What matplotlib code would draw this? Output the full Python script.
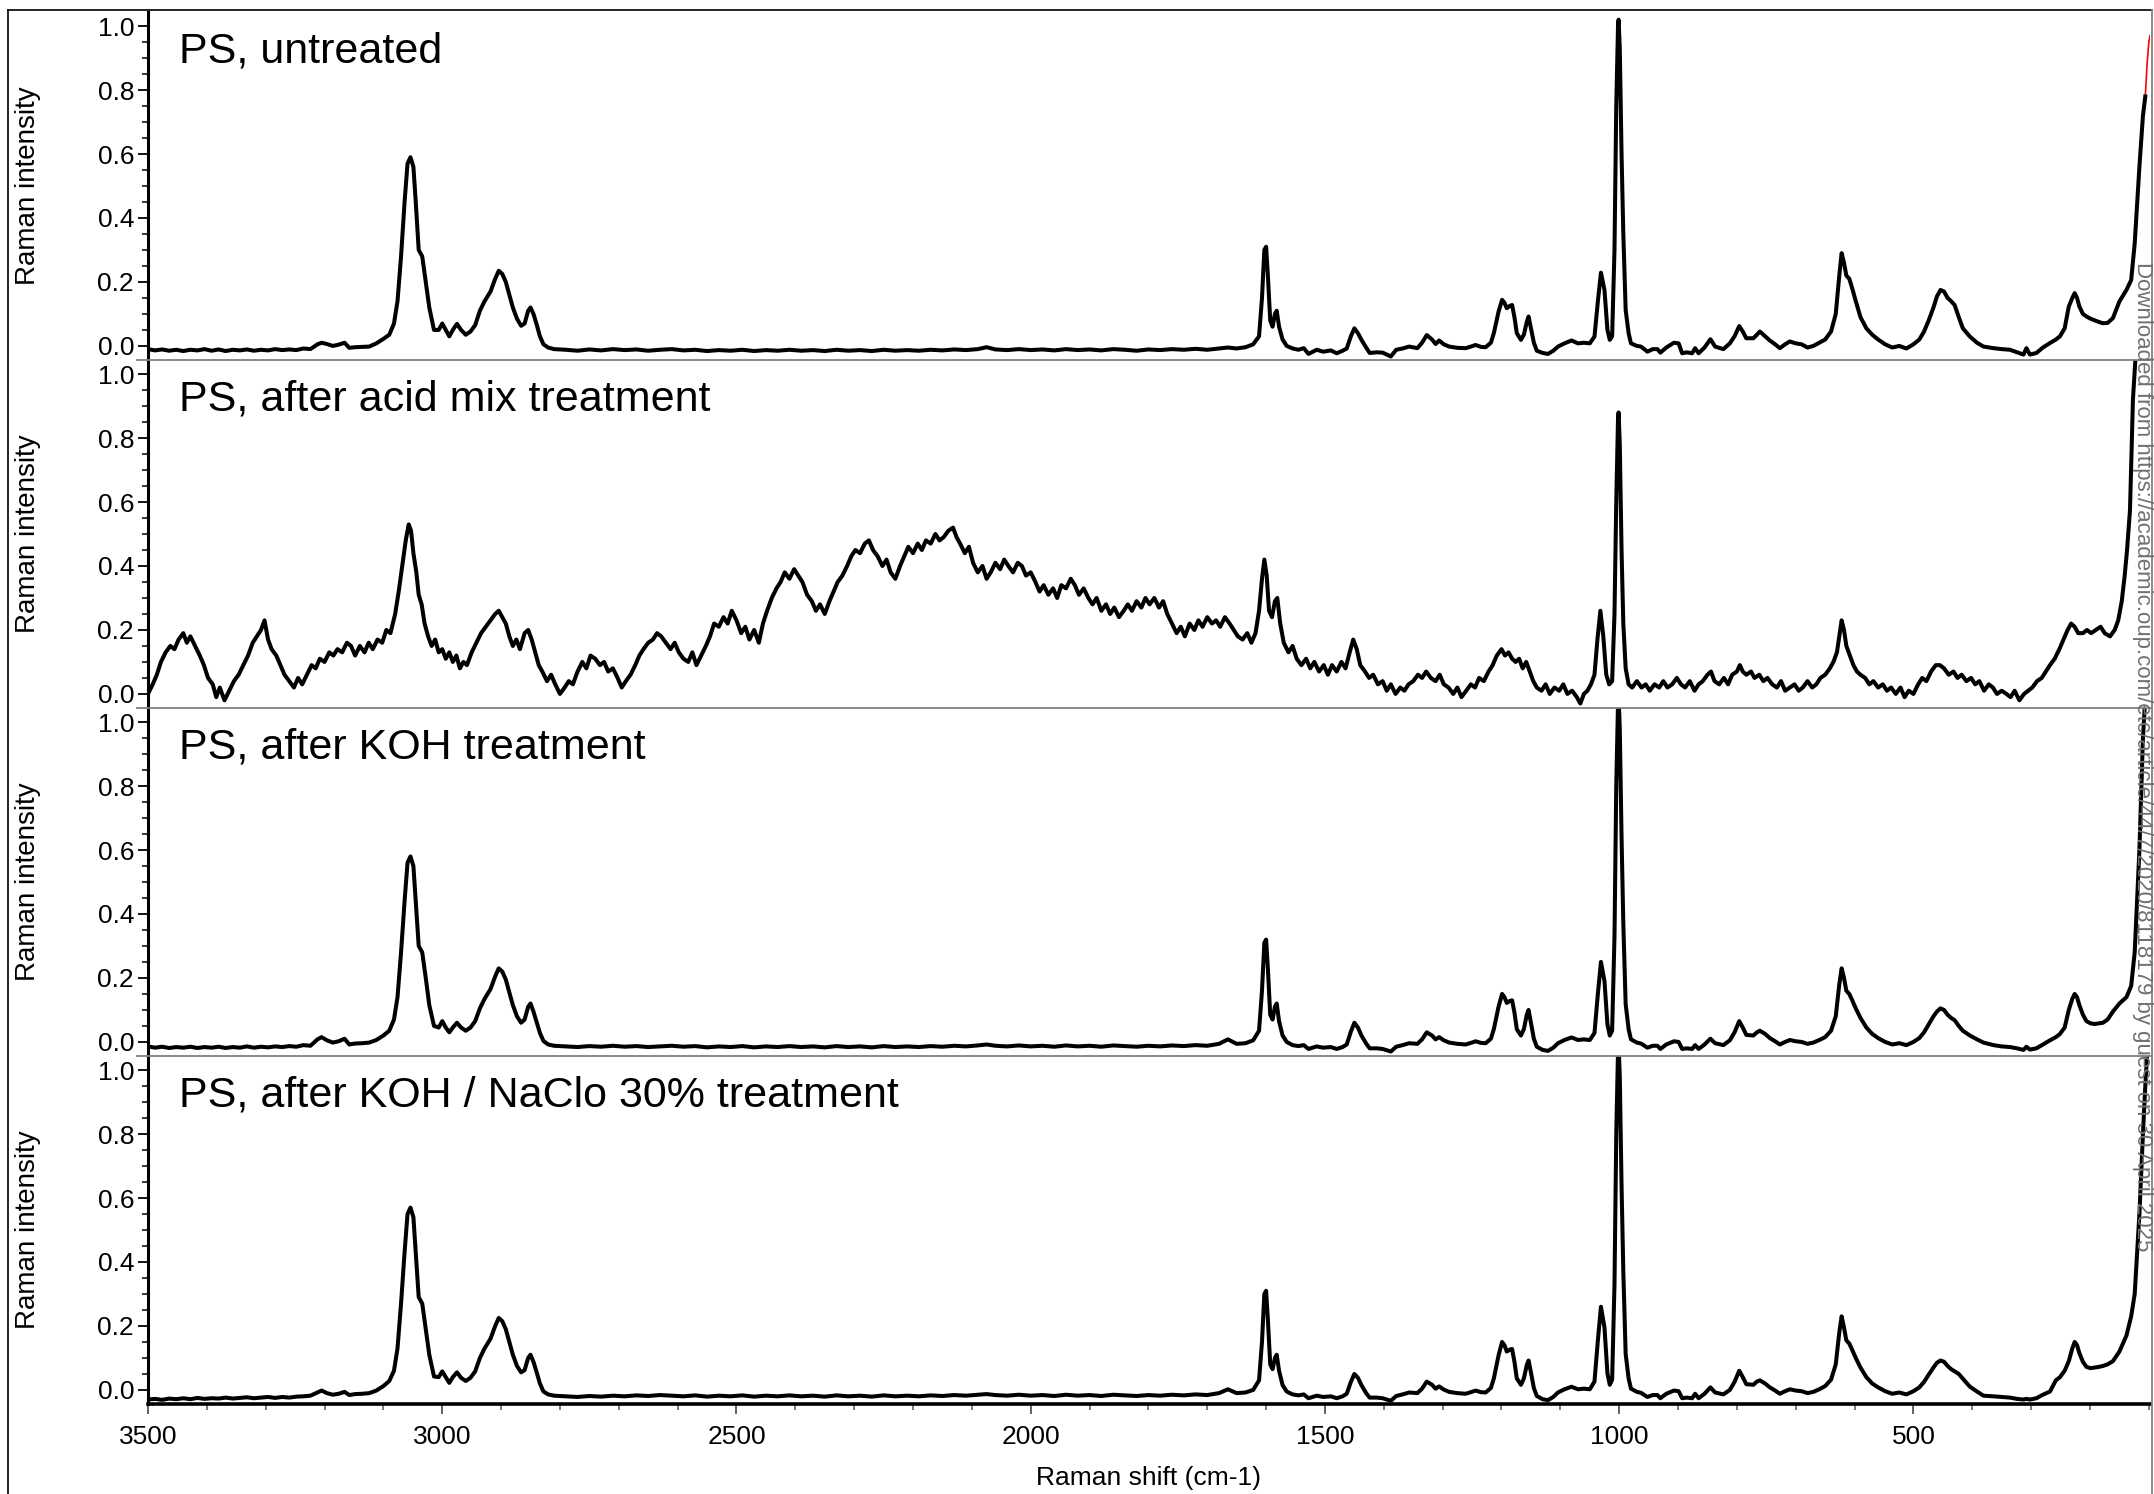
import numpy as np
import matplotlib
matplotlib.use("Agg")
import matplotlib.pyplot as plt
from matplotlib.lines import Line2D
from matplotlib.ticker import MultipleLocator

plt.rcParams["font.family"] = ["Liberation Sans", "DejaVu Sans"]

# wavenumber grid shared by the untreated, KOH and KOH/NaClO spectra
wn = [
    3500, 3488, 3476, 3464, 3452, 3440, 3428, 3416, 3404, 3392,
    3380, 3368, 3356, 3344, 3332, 3320, 3308, 3296, 3284, 3272,
    3260, 3248, 3236, 3224, 3212, 3205, 3196, 3186, 3176, 3166,
    3158, 3148, 3136, 3124, 3112, 3100, 3090, 3082, 3076, 3070,
    3064, 3059, 3054, 3049, 3045, 3040, 3034, 3028, 3022, 3014,
    3006, 3000, 2994, 2988, 2982, 2975, 2968, 2960, 2952, 2944,
    2936, 2928, 2918, 2910, 2904, 2898, 2892, 2886, 2880, 2873,
    2866, 2860, 2854, 2850, 2845, 2840, 2834, 2828, 2820, 2810,
    2790, 2770, 2750, 2730, 2710, 2690, 2670, 2650, 2630, 2610,
    2590, 2570, 2550, 2530, 2510, 2490, 2470, 2450, 2430, 2410,
    2390, 2370, 2350, 2330, 2310, 2290, 2270, 2250, 2230, 2210,
    2190, 2170, 2150, 2130, 2110, 2090, 2075, 2060, 2040, 2020,
    2000, 1980, 1960, 1940, 1920, 1900, 1880, 1860, 1840, 1820,
    1800, 1780, 1760, 1740, 1720, 1700, 1680, 1665, 1650, 1635,
    1622, 1612, 1607, 1603, 1600, 1597, 1593, 1589, 1585, 1582,
    1578, 1572, 1565, 1555, 1545, 1536, 1528, 1514, 1503, 1490,
    1480, 1470, 1463, 1456, 1450, 1444, 1438, 1430, 1424, 1412,
    1402, 1388, 1379, 1368, 1357, 1343, 1335, 1327, 1318, 1312,
    1306, 1298, 1289, 1275, 1261, 1252, 1244, 1235, 1227, 1218,
    1213, 1205, 1199, 1195, 1191, 1186, 1182, 1178, 1174, 1167,
    1162, 1157, 1154, 1150, 1145, 1140, 1130, 1121, 1112, 1104,
    1093, 1081, 1070, 1060, 1050, 1042, 1036, 1031, 1025, 1020,
    1016, 1012, 1008, 1005, 1002, 1001, 999, 996, 993, 989,
    984, 980, 970, 963, 952, 943, 935, 930, 920, 907,
    899, 893, 885, 876, 871, 865, 855, 845, 837, 823,
    812, 804, 796, 790, 784, 772, 766, 761, 752, 744,
    735, 727, 718, 710, 700, 690, 680, 670, 660, 650,
    640, 632, 626, 622, 618, 614, 609, 604, 598, 590,
    580, 570, 560, 548, 536, 524, 512, 500, 490, 482,
    474, 466, 460, 454, 448, 442, 436, 430, 423, 416,
    404, 392, 381, 364, 350, 336, 324, 313, 308, 302,
    291, 280, 268, 258, 251, 243, 236, 230, 226, 222,
    218, 212, 206, 199, 192, 185, 178, 170, 161, 150,
    138, 130, 124, 116, 110, 106, 102, 98,
]

untreated = [
    -0.010, -0.014, -0.011, -0.015, -0.012, -0.016, -0.012, -0.014, -0.010, -0.015,
    -0.011, -0.016, -0.012, -0.014, -0.011, -0.015, -0.012, -0.014, -0.010, -0.013,
    -0.011, -0.013, -0.008, -0.010, 0.005, 0.010, 0.006, 0.000, 0.004, 0.010,
    -0.006, -0.004, -0.003, -0.002, 0.008, 0.022, 0.035, 0.070, 0.140, 0.280,
    0.450, 0.570, 0.590, 0.560, 0.450, 0.300, 0.280, 0.200, 0.120, 0.050,
    0.050, 0.070, 0.050, 0.030, 0.050, 0.069, 0.050, 0.035, 0.045, 0.065,
    0.110, 0.140, 0.170, 0.210, 0.235, 0.225, 0.200, 0.160, 0.120, 0.085,
    0.063, 0.070, 0.110, 0.120, 0.100, 0.070, 0.030, 0.005, -0.005, -0.010,
    -0.012, -0.015, -0.011, -0.014, -0.010, -0.013, -0.011, -0.015, -0.012, -0.010,
    -0.014, -0.012, -0.016, -0.013, -0.015, -0.012, -0.016, -0.013, -0.015, -0.012,
    -0.015, -0.013, -0.016, -0.012, -0.015, -0.013, -0.016, -0.012, -0.015, -0.013,
    -0.015, -0.012, -0.014, -0.011, -0.013, -0.010, -0.004, -0.011, -0.013, -0.010,
    -0.013, -0.011, -0.014, -0.010, -0.013, -0.011, -0.014, -0.010, -0.012, -0.015,
    -0.011, -0.013, -0.010, -0.012, -0.009, -0.012, -0.008, -0.005, -0.008, -0.004,
    0.005, 0.030, 0.150, 0.300, 0.310, 0.220, 0.080, 0.060, 0.100, 0.110,
    0.060, 0.020, 0.000, -0.008, -0.012, -0.007, -0.025, -0.012, -0.018, -0.014,
    -0.023, -0.015, -0.008, 0.030, 0.055, 0.040, 0.019, -0.005, -0.022, -0.020,
    -0.021, -0.033, -0.012, -0.008, -0.002, -0.007, 0.010, 0.034, 0.020, 0.006,
    0.017, 0.005, -0.002, -0.006, -0.007, -0.002, 0.003, -0.003, -0.004, 0.010,
    0.040, 0.107, 0.144, 0.135, 0.118, 0.125, 0.128, 0.090, 0.040, 0.019,
    0.035, 0.075, 0.092, 0.055, 0.010, -0.015, -0.022, -0.025, -0.015, -0.002,
    0.008, 0.017, 0.008, 0.010, 0.008, 0.029, 0.144, 0.229, 0.175, 0.050,
    0.019, 0.030, 0.300, 0.750, 1.000, 1.020, 0.930, 0.600, 0.350, 0.112,
    0.040, 0.008, 0.000, -0.002, -0.018, -0.010, -0.010, -0.021, -0.005, 0.010,
    0.008, -0.023, -0.020, -0.023, -0.007, -0.023, -0.005, 0.021, -0.002, -0.010,
    0.008, 0.030, 0.062, 0.045, 0.024, 0.024, 0.035, 0.045, 0.030, 0.017,
    0.005, -0.007, 0.005, 0.014, 0.008, 0.005, -0.005, 0.000, 0.010, 0.020,
    0.045, 0.100, 0.220, 0.290, 0.260, 0.220, 0.210, 0.180, 0.140, 0.090,
    0.055, 0.035, 0.020, 0.005, -0.005, 0.000, -0.008, 0.005, 0.020, 0.045,
    0.080, 0.120, 0.155, 0.175, 0.170, 0.150, 0.140, 0.128, 0.090, 0.055,
    0.029, 0.010, -0.002, -0.007, -0.010, -0.012, -0.020, -0.027, -0.007, -0.027,
    -0.022, -0.005, 0.009, 0.020, 0.030, 0.055, 0.123, 0.150, 0.165, 0.150,
    0.123, 0.100, 0.092, 0.085, 0.080, 0.075, 0.071, 0.072, 0.087, 0.139,
    0.175, 0.206, 0.320, 0.560, 0.720, 0.780, np.nan, np.nan,
]

# red trace that shows above the black one at the low-wavenumber end
untreated_red_wn = [110, 106, 103, 100, 98]
untreated_red = [0.72, 0.78, 0.88, 0.95, 0.97]

koh = [
    -0.014, -0.018, -0.015, -0.019, -0.016, -0.018, -0.015, -0.019, -0.016, -0.018,
    -0.015, -0.019, -0.016, -0.018, -0.014, -0.018, -0.015, -0.017, -0.014, -0.016,
    -0.013, -0.015, -0.010, -0.012, 0.008, 0.015, 0.005, -0.002, 0.002, 0.010,
    -0.008, -0.005, -0.004, -0.002, 0.006, 0.020, 0.035, 0.070, 0.140, 0.280,
    0.440, 0.560, 0.580, 0.550, 0.440, 0.300, 0.280, 0.200, 0.115, 0.050,
    0.045, 0.065, 0.045, 0.030, 0.045, 0.060, 0.045, 0.035, 0.045, 0.065,
    0.105, 0.135, 0.165, 0.205, 0.230, 0.220, 0.195, 0.155, 0.115, 0.080,
    0.060, 0.070, 0.110, 0.120, 0.095, 0.065, 0.028, 0.003, -0.008, -0.012,
    -0.014, -0.016, -0.013, -0.015, -0.012, -0.015, -0.013, -0.016, -0.014, -0.012,
    -0.015, -0.013, -0.017, -0.014, -0.016, -0.013, -0.017, -0.014, -0.016, -0.013,
    -0.016, -0.014, -0.017, -0.013, -0.016, -0.014, -0.017, -0.013, -0.016, -0.014,
    -0.016, -0.013, -0.015, -0.012, -0.014, -0.011, -0.008, -0.012, -0.014, -0.011,
    -0.014, -0.012, -0.015, -0.011, -0.014, -0.012, -0.015, -0.011, -0.013, -0.015,
    -0.012, -0.014, -0.011, -0.013, -0.010, -0.012, -0.006, 0.008, -0.006, -0.004,
    0.005, 0.035, 0.160, 0.310, 0.320, 0.230, 0.085, 0.070, 0.110, 0.120,
    0.065, 0.020, 0.000, -0.010, -0.013, -0.010, -0.022, -0.014, -0.018, -0.016,
    -0.022, -0.016, -0.008, 0.032, 0.060, 0.045, 0.020, -0.005, -0.020, -0.020,
    -0.022, -0.030, -0.015, -0.010, -0.004, -0.006, 0.008, 0.030, 0.020, 0.008,
    0.015, 0.005, -0.002, -0.006, -0.008, -0.003, 0.002, -0.003, -0.004, 0.010,
    0.040, 0.110, 0.150, 0.140, 0.122, 0.128, 0.130, 0.092, 0.040, 0.020,
    0.040, 0.085, 0.100, 0.060, 0.010, -0.015, -0.025, -0.028, -0.018, -0.004,
    0.006, 0.014, 0.006, 0.008, 0.006, 0.028, 0.155, 0.250, 0.190, 0.055,
    0.020, 0.035, 0.330, 0.800, 1.060, 1.080, 0.980, 0.640, 0.370, 0.118,
    0.040, 0.008, -0.002, -0.005, -0.018, -0.012, -0.012, -0.022, -0.008, 0.002,
    0.000, -0.022, -0.020, -0.022, -0.010, -0.022, -0.008, 0.010, -0.004, -0.010,
    0.005, 0.030, 0.065, 0.045, 0.022, 0.020, 0.030, 0.035, 0.025, 0.012,
    0.002, -0.008, 0.000, 0.006, 0.002, 0.000, -0.006, -0.002, 0.006, 0.015,
    0.035, 0.080, 0.180, 0.230, 0.200, 0.160, 0.150, 0.130, 0.105, 0.075,
    0.045, 0.025, 0.012, 0.000, -0.008, -0.004, -0.010, 0.000, 0.012, 0.030,
    0.055, 0.080, 0.095, 0.105, 0.100, 0.085, 0.075, 0.068, 0.050, 0.035,
    0.020, 0.008, -0.002, -0.010, -0.014, -0.016, -0.020, -0.025, -0.015, -0.024,
    -0.020, -0.008, 0.005, 0.015, 0.025, 0.045, 0.100, 0.135, 0.150, 0.140,
    0.115, 0.085, 0.065, 0.058, 0.056, 0.058, 0.060, 0.070, 0.095, 0.120,
    0.140, 0.175, 0.280, 0.600, 0.950, 1.080, 1.100, 1.100,
]

koh_naclo = [
    -0.030, -0.028, -0.031, -0.027, -0.029, -0.026, -0.029, -0.025, -0.028, -0.026,
    -0.027, -0.024, -0.027, -0.025, -0.023, -0.026, -0.024, -0.022, -0.025, -0.022,
    -0.024, -0.021, -0.020, -0.018, -0.008, -0.002, -0.010, -0.015, -0.012, -0.006,
    -0.016, -0.013, -0.012, -0.010, -0.002, 0.012, 0.028, 0.060, 0.130, 0.270,
    0.430, 0.550, 0.570, 0.540, 0.430, 0.290, 0.270, 0.190, 0.110, 0.042,
    0.040, 0.058, 0.040, 0.022, 0.040, 0.055, 0.038, 0.028, 0.038, 0.058,
    0.100, 0.130, 0.160, 0.200, 0.225, 0.215, 0.190, 0.150, 0.110, 0.075,
    0.055, 0.062, 0.100, 0.110, 0.088, 0.058, 0.020, -0.005, -0.014, -0.018,
    -0.020, -0.022, -0.019, -0.021, -0.018, -0.020, -0.017, -0.019, -0.016, -0.018,
    -0.020, -0.017, -0.021, -0.018, -0.020, -0.017, -0.021, -0.018, -0.020, -0.017,
    -0.020, -0.018, -0.021, -0.017, -0.020, -0.018, -0.021, -0.017, -0.020, -0.018,
    -0.020, -0.017, -0.019, -0.016, -0.018, -0.015, -0.013, -0.016, -0.018, -0.015,
    -0.018, -0.016, -0.019, -0.015, -0.018, -0.016, -0.019, -0.015, -0.017, -0.019,
    -0.016, -0.018, -0.015, -0.017, -0.014, -0.016, -0.010, 0.002, -0.010, -0.008,
    0.000, 0.030, 0.150, 0.300, 0.310, 0.220, 0.080, 0.065, 0.100, 0.110,
    0.060, 0.015, -0.005, -0.014, -0.017, -0.014, -0.026, -0.018, -0.022, -0.020,
    -0.026, -0.020, -0.012, 0.025, 0.050, 0.038, 0.015, -0.010, -0.024, -0.024,
    -0.026, -0.034, -0.019, -0.014, -0.008, -0.010, 0.004, 0.026, 0.016, 0.004,
    0.011, 0.001, -0.006, -0.010, -0.012, -0.007, -0.002, -0.007, -0.008, 0.006,
    0.036, 0.108, 0.150, 0.140, 0.120, 0.126, 0.128, 0.088, 0.036, 0.016,
    0.036, 0.078, 0.092, 0.055, 0.006, -0.019, -0.029, -0.032, -0.022, -0.008,
    0.002, 0.010, 0.002, 0.004, 0.002, 0.026, 0.160, 0.260, 0.195, 0.052,
    0.016, 0.032, 0.330, 0.800, 1.060, 1.080, 0.980, 0.640, 0.370, 0.112,
    0.036, 0.004, -0.006, -0.009, -0.022, -0.016, -0.016, -0.026, -0.012, -0.002,
    -0.004, -0.026, -0.024, -0.026, -0.012, -0.026, -0.012, 0.008, -0.008, -0.014,
    0.000, 0.025, 0.060, 0.040, 0.018, 0.016, 0.026, 0.030, 0.020, 0.008,
    -0.002, -0.012, -0.004, 0.002, -0.002, -0.004, -0.010, -0.006, 0.002, 0.012,
    0.032, 0.080, 0.180, 0.230, 0.195, 0.155, 0.145, 0.125, 0.100, 0.070,
    0.040, 0.020, 0.008, -0.004, -0.012, -0.008, -0.014, -0.004, 0.008, 0.025,
    0.048, 0.070, 0.085, 0.092, 0.088, 0.075, 0.065, 0.058, 0.050, 0.035,
    0.010, -0.005, -0.018, -0.020, -0.022, -0.024, -0.028, -0.030, -0.028, -0.030,
    -0.026, -0.015, -0.005, 0.030, 0.040, 0.060, 0.090, 0.130, 0.150, 0.140,
    0.115, 0.088, 0.072, 0.068, 0.070, 0.072, 0.075, 0.080, 0.090, 0.120,
    0.170, 0.230, 0.300, 0.550, 0.800, 0.950, 1.080, 1.100,
]

# acid mix spectrum has its own (denser) grid because of the noise
acid_wn = [
    3500, 3492, 3485, 3478, 3470, 3462, 3455, 3448, 3440, 3434, 3428, 3420, 3412, 3405, 3398, 3390,
    3384, 3378, 3370, 3362, 3354, 3346, 3338, 3330, 3322, 3315, 3308, 3302, 3296, 3290, 3282, 3275,
    3268, 3260, 3252, 3245, 3238, 3230, 3222, 3215, 3208, 3200, 3192, 3185, 3178, 3170, 3162, 3155,
    3148, 3140, 3132, 3125, 3118, 3110, 3102, 3095, 3088, 3080, 3074, 3068, 3062, 3057, 3053, 3049,
    3044, 3040, 3035, 3030, 3024, 3018, 3012, 3006, 3000, 2994, 2988, 2982, 2976, 2970, 2964, 2958,
    2950, 2942, 2934, 2926, 2918, 2910, 2904, 2898, 2892, 2886, 2880, 2874, 2868, 2860, 2854, 2848,
    2842, 2836, 2830, 2822, 2815, 2808, 2800, 2792, 2785, 2778, 2770, 2762, 2755, 2748, 2740, 2732,
    2725, 2718, 2710, 2702, 2695, 2688, 2680, 2672, 2665, 2658, 2650, 2642, 2635, 2628, 2620, 2612,
    2605, 2598, 2590, 2582, 2575, 2568, 2560, 2552, 2545, 2538, 2530, 2522, 2515, 2508, 2500, 2492,
    2485, 2478, 2470, 2462, 2455, 2448, 2440, 2432, 2425, 2418, 2410, 2402, 2395, 2388, 2380, 2372,
    2365, 2358, 2350, 2342, 2335, 2328, 2320, 2312, 2305, 2298, 2290, 2282, 2275, 2268, 2260, 2252,
    2245, 2238, 2230, 2222, 2215, 2208, 2200, 2192, 2185, 2178, 2170, 2162, 2155, 2148, 2140, 2132,
    2126, 2120, 2112, 2105, 2098, 2090, 2082, 2075, 2068, 2060, 2052, 2045, 2038, 2030, 2022, 2015,
    2008, 2000, 1992, 1985, 1978, 1970, 1962, 1955, 1948, 1940, 1932, 1925, 1918, 1910, 1902, 1895,
    1888, 1880, 1872, 1865, 1858, 1850, 1842, 1835, 1828, 1820, 1812, 1805, 1798, 1790, 1782, 1775,
    1768, 1760, 1752, 1745, 1738, 1730, 1722, 1715, 1708, 1700, 1692, 1685, 1678, 1670, 1662, 1655,
    1648, 1640, 1632, 1625, 1618, 1612, 1607, 1603, 1599, 1595, 1590, 1585, 1581, 1576, 1570, 1562,
    1555, 1548, 1540, 1532, 1525, 1518, 1510, 1502, 1495, 1488, 1480, 1472, 1465, 1458, 1452, 1446,
    1440, 1432, 1425, 1418, 1410, 1402, 1395, 1388, 1380, 1372, 1365, 1358, 1350, 1342, 1335, 1328,
    1320, 1312, 1305, 1298, 1290, 1282, 1275, 1268, 1260, 1252, 1245, 1238, 1230, 1222, 1215, 1208,
    1200, 1194, 1188, 1182, 1176, 1170, 1164, 1158, 1152, 1146, 1140, 1132, 1125, 1118, 1110, 1102,
    1095, 1088, 1080, 1072, 1066, 1060, 1054, 1048, 1042, 1037, 1032, 1027, 1022, 1017, 1012, 1008,
    1005, 1002, 1001, 999, 996, 993, 989, 984, 978, 970, 962, 955, 948, 940, 932, 925,
    918, 910, 902, 895, 888, 880, 872, 865, 858, 850, 844, 838, 830, 822, 815, 808,
    800, 795, 790, 784, 776, 770, 762, 755, 748, 740, 732, 725, 718, 710, 702, 695,
    688, 680, 672, 665, 658, 650, 642, 636, 630, 626, 622, 618, 614, 608, 602, 596,
    590, 582, 575, 568, 560, 552, 545, 538, 530, 522, 515, 508, 500, 492, 485, 478,
    470, 462, 455, 448, 440, 432, 425, 418, 410, 402, 395, 388, 380, 372, 365, 358,
    350, 342, 335, 328, 320, 312, 305, 298, 290, 282, 275, 268, 260, 252, 245, 238,
    232, 226, 220, 212, 205, 198, 190, 182, 175, 166, 158, 152, 146, 141, 137, 132,
    127, 122, 118,
]

acid_mix = [
    0.00, 0.03, 0.06, 0.10, 0.13, 0.15, 0.14, 0.17, 0.19, 0.16, 0.18, 0.15, 0.12, 0.09, 0.05, 0.03,
    -0.01, 0.02, -0.02, 0.01, 0.04, 0.06, 0.09, 0.12, 0.16, 0.18, 0.20, 0.23, 0.17, 0.14, 0.12, 0.09,
    0.06, 0.04, 0.02, 0.05, 0.03, 0.06, 0.09, 0.08, 0.11, 0.10, 0.13, 0.12, 0.14, 0.13, 0.16, 0.15,
    0.12, 0.15, 0.13, 0.16, 0.14, 0.17, 0.16, 0.20, 0.19, 0.25, 0.32, 0.40, 0.48, 0.53, 0.51, 0.44,
    0.38, 0.31, 0.28, 0.22, 0.18, 0.15, 0.17, 0.13, 0.14, 0.11, 0.13, 0.10, 0.12, 0.08, 0.10, 0.09,
    0.13, 0.16, 0.19, 0.21, 0.23, 0.25, 0.26, 0.24, 0.22, 0.18, 0.15, 0.17, 0.14, 0.19, 0.20, 0.17,
    0.13, 0.09, 0.07, 0.04, 0.06, 0.03, 0.00, 0.02, 0.04, 0.03, 0.07, 0.10, 0.08, 0.12, 0.11, 0.09,
    0.10, 0.07, 0.08, 0.05, 0.02, 0.04, 0.06, 0.09, 0.12, 0.14, 0.16, 0.17, 0.19, 0.18, 0.16, 0.14,
    0.16, 0.13, 0.11, 0.10, 0.13, 0.09, 0.12, 0.15, 0.18, 0.22, 0.21, 0.24, 0.22, 0.26, 0.23, 0.19,
    0.21, 0.17, 0.20, 0.16, 0.22, 0.26, 0.30, 0.33, 0.35, 0.38, 0.36, 0.39, 0.37, 0.35, 0.31, 0.29,
    0.26, 0.28, 0.25, 0.29, 0.32, 0.35, 0.37, 0.40, 0.43, 0.45, 0.44, 0.47, 0.48, 0.45, 0.43, 0.40,
    0.42, 0.38, 0.36, 0.40, 0.43, 0.46, 0.44, 0.47, 0.45, 0.48, 0.47, 0.50, 0.48, 0.49, 0.51, 0.52,
    0.49, 0.47, 0.44, 0.46, 0.41, 0.38, 0.40, 0.36, 0.38, 0.41, 0.39, 0.42, 0.40, 0.38, 0.41, 0.40,
    0.37, 0.38, 0.35, 0.32, 0.34, 0.31, 0.33, 0.30, 0.34, 0.33, 0.36, 0.34, 0.31, 0.33, 0.30, 0.28,
    0.30, 0.26, 0.28, 0.25, 0.27, 0.24, 0.26, 0.28, 0.26, 0.29, 0.27, 0.30, 0.28, 0.30, 0.27, 0.29,
    0.25, 0.22, 0.19, 0.21, 0.18, 0.22, 0.20, 0.23, 0.21, 0.24, 0.22, 0.23, 0.21, 0.24, 0.22, 0.20,
    0.18, 0.17, 0.19, 0.16, 0.19, 0.26, 0.36, 0.42, 0.37, 0.26, 0.24, 0.29, 0.30, 0.22, 0.16, 0.13,
    0.15, 0.11, 0.09, 0.11, 0.08, 0.10, 0.07, 0.09, 0.06, 0.09, 0.07, 0.10, 0.08, 0.13, 0.17, 0.14,
    0.09, 0.07, 0.05, 0.06, 0.03, 0.04, 0.01, 0.03, 0.00, 0.02, 0.01, 0.03, 0.04, 0.06, 0.05, 0.07,
    0.05, 0.04, 0.06, 0.03, 0.02, 0.00, 0.02, -0.01, 0.01, 0.03, 0.02, 0.05, 0.04, 0.07, 0.09, 0.12,
    0.14, 0.12, 0.13, 0.11, 0.10, 0.11, 0.08, 0.10, 0.07, 0.04, 0.02, 0.01, 0.03, 0.00, 0.02, 0.01,
    0.03, 0.00, 0.01, -0.01, -0.03, 0.00, 0.01, 0.03, 0.06, 0.17, 0.26, 0.18, 0.06, 0.03, 0.04, 0.25,
    0.60, 0.86, 0.88, 0.78, 0.45, 0.22, 0.08, 0.03, 0.02, 0.04, 0.02, 0.03, 0.01, 0.03, 0.02, 0.04,
    0.02, 0.03, 0.05, 0.03, 0.02, 0.04, 0.01, 0.03, 0.04, 0.06, 0.07, 0.04, 0.03, 0.05, 0.03, 0.06,
    0.07, 0.09, 0.07, 0.06, 0.07, 0.05, 0.06, 0.04, 0.05, 0.03, 0.02, 0.04, 0.01, 0.02, 0.03, 0.01,
    0.02, 0.04, 0.02, 0.03, 0.05, 0.06, 0.08, 0.10, 0.13, 0.18, 0.23, 0.20, 0.15, 0.12, 0.09, 0.07,
    0.06, 0.05, 0.03, 0.04, 0.02, 0.03, 0.01, 0.02, 0.00, 0.02, -0.01, 0.01, 0.00, 0.03, 0.05, 0.04,
    0.07, 0.09, 0.09, 0.08, 0.06, 0.07, 0.05, 0.06, 0.04, 0.05, 0.03, 0.04, 0.01, 0.03, 0.02, 0.00,
    0.01, 0.00, -0.01, 0.01, -0.02, 0.00, 0.01, 0.02, 0.04, 0.05, 0.07, 0.09, 0.11, 0.14, 0.17, 0.20,
    0.22, 0.21, 0.19, 0.19, 0.20, 0.19, 0.20, 0.21, 0.19, 0.18, 0.20, 0.23, 0.29, 0.37, 0.45, 0.575,
    0.92, 1.07, 1.10,
]

panels = [
    ("PS, untreated", wn, untreated),
    ("PS, after acid mix treatment", acid_wn, acid_mix),
    ("PS, after KOH treatment", wn, koh),
    ("PS, after KOH / NaClo 30% treatment", wn, koh_naclo),
]

W, H = 2154, 1494
fig = plt.figure(figsize=(W / 100, H / 100), dpi=100)

left = 148 / W
width = 2002 / W
top_px = 12
panel_px = 348

axes = []
for k, (title, x, y) in enumerate(panels):
    bottom = 1 - (top_px + panel_px * (k + 1)) / H
    ax = fig.add_axes([left, bottom, width, panel_px / H])
    if k == 0:
        ax.plot(untreated_red_wn, untreated_red, color="red", lw=1.2)
    ax.plot(x, y, color="black", lw=2.9, solid_joinstyle="round")
    ax.set_xlim(3500, 98)
    ax.set_ylim(-0.044, 1.044)
    ax.yaxis.set_major_locator(MultipleLocator(0.2))
    ax.yaxis.set_minor_locator(MultipleLocator(0.05))
    ax.xaxis.set_major_locator(MultipleLocator(500))
    ax.xaxis.set_minor_locator(MultipleLocator(100))
    ax.yaxis.set_major_formatter(plt.FuncFormatter(lambda v, p: f"{v:.1f}"))
    ax.tick_params(axis="y", which="major", direction="out", length=7, width=1.3,
                   labelsize=19, pad=3)
    ax.tick_params(axis="y", which="minor", direction="out", length=4.5, width=1.1)
    for s in ["top", "right"]:
        ax.spines[s].set_visible(False)
    ax.spines["left"].set_linewidth(2.2)
    if k < 3:
        ax.spines["bottom"].set_visible(False)
        ax.tick_params(axis="x", which="both", bottom=False, labelbottom=False)
    else:
        ax.spines["bottom"].set_linewidth(2.6)
        ax.tick_params(axis="x", which="major", direction="out", length=7, width=1.3,
                       labelsize=19, pad=8, color="#555555")
        ax.tick_params(axis="x", which="minor", direction="out", length=4.5, width=1.1,
                       color="#555555")
    ax.text(0.0155, 0.856, title, transform=ax.transAxes, fontsize=31,
            ha="left", va="baseline")
    center = 1 - (top_px + panel_px * k + panel_px / 2) / H
    fig.text(28 / W, center, "Raman intensity", rotation=90, fontsize=20,
             ha="center", va="center")
    axes.append(ax)

# grey separators between the stacked panels
for k in range(1, 4):
    yy = 1 - (top_px + panel_px * k) / H
    fig.add_artist(Line2D([137 / W, 2152 / W], [yy, yy], color="#808080", lw=1.3))

# outer frame
fig.add_artist(Line2D([8 / W, 2152 / W], [1 - 10 / H, 1 - 10 / H], color="black", lw=1.2))
fig.add_artist(Line2D([8 / W, 8 / W], [0, 1 - 10 / H], color="black", lw=1.2))
fig.add_artist(Line2D([2152 / W, 2152 / W], [0, 1 - 10 / H], color="#808080", lw=1.3))

fig.text(1149 / W, 1 - 1478 / H, "Raman shift (cm-1)", fontsize=19,
         ha="center", va="center")

fig.text(2142 / W, 1 - 262 / H,
         "Downloaded from https://academic.oup.com/etc/article/44/7/2020/8118179 by guest on 30 April 2025",
         rotation=270, fontsize=16, color="#707070", ha="center", va="top")

fig.savefig("out.png", dpi=100)
